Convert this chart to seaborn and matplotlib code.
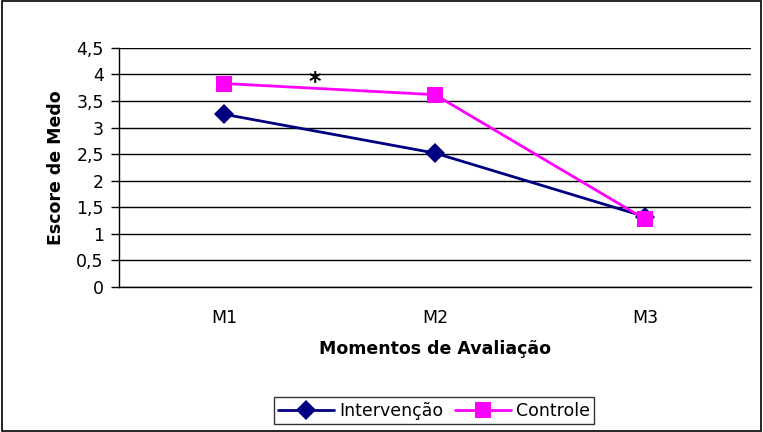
import pandas as pd
import matplotlib.pyplot as plt
import seaborn as sns
from matplotlib.lines import Line2D

momentos = ['M1', 'M2', 'M3']
intervencao = [3.25, 2.52, 1.32]
controle = [3.83, 3.62, 1.27]

df = pd.DataFrame({
    'Momento': momentos * 2,
    'Escore': intervencao + controle,
    'Grupo': ['Intervenção'] * 3 + ['Controle'] * 3,
})
df['x'] = df['Momento'].map({m: i for i, m in enumerate(momentos)})

sns.set_theme(style='white')
plt.rcParams['font.family'] = ['DejaVu Sans']
plt.rcParams['text.color'] = 'black'
plt.rcParams['axes.labelcolor'] = 'black'
plt.rcParams['xtick.color'] = 'black'
plt.rcParams['ytick.color'] = 'black'

fig = plt.figure(figsize=(7.63, 4.32), dpi=100, facecolor='white')
ax = fig.add_axes([0.156, 0.336, 0.828, 0.553])

palette = {'Intervenção': '#000080', 'Controle': '#FF00FF'}
markers = {'Intervenção': 'D', 'Controle': 's'}
sizes = {'Intervenção': 10, 'Controle': 11}

sns.lineplot(data=df, x='x', y='Escore', hue='Grupo', style='Grupo',
             palette=palette, markers=markers, dashes=False, linewidth=2,
             markersize=0, ax=ax, legend=False, zorder=3)
# markers drawn separately so each group gets its own size
for g in ['Intervenção', 'Controle']:
    sub = df[df['Grupo'] == g]
    ax.plot(sub['x'], sub['Escore'], linestyle='none', marker=markers[g],
            markersize=sizes[g], color=palette[g], markeredgewidth=0, zorder=4)

ax.set_xlim(-0.5, 2.5)
ax.set_ylim(0, 4.5)
ax.set_yticks([i * 0.5 for i in range(10)])
ax.set_yticklabels([f'{v:g}'.replace('.', ',') for v in ax.get_yticks()], fontsize=12.5)
ax.set_xticks(range(3))
ax.set_xticklabels(momentos, fontsize=12.5)
ax.set_xticks([-0.5, 0.5, 1.5, 2.5], minor=True)
ax.tick_params(axis='x', which='major', length=0, pad=16)
ax.tick_params(axis='x', which='minor', length=5, width=1, color='black', direction='out')
ax.tick_params(axis='y', length=6, width=1, color='black', direction='out', left=True, pad=5)
ax.yaxis.grid(True, color='black', linewidth=1)
ax.set_axisbelow(True)
for s in ['top', 'right']:
    ax.spines[s].set_visible(False)
for s in ['left', 'bottom']:
    ax.spines[s].set_color('black')
    ax.spines[s].set_linewidth(1)

ax.set_xlabel('Momentos de Avaliação', fontsize=12.5, fontweight='bold', labelpad=9)
ax.set_ylabel('Escore de Medo', fontsize=12.5, fontweight='bold', labelpad=8)

ax.text(0.43, 3.86, '*', fontsize=17, fontweight='bold', ha='center', va='center')

handles = [Line2D([], [], color=palette[g], marker=markers[g], markersize=sizes[g],
                  linewidth=2, markeredgewidth=0) for g in ['Intervenção', 'Controle']]
fig.legend(handles, ['Intervenção', 'Controle'], loc='center', bbox_to_anchor=(0.569, 0.049),
           ncol=2, frameon=True, fancybox=False, edgecolor='black', fontsize=12.5,
           handlelength=3.2, columnspacing=0.7, handletextpad=0.3, borderpad=0.25)

fig.patches.append(plt.Rectangle((0.002, 0.002), 0.996, 0.996, transform=fig.transFigure,
                                 fill=False, edgecolor='black', linewidth=1.2))

fig.savefig('out.png', dpi=100)
